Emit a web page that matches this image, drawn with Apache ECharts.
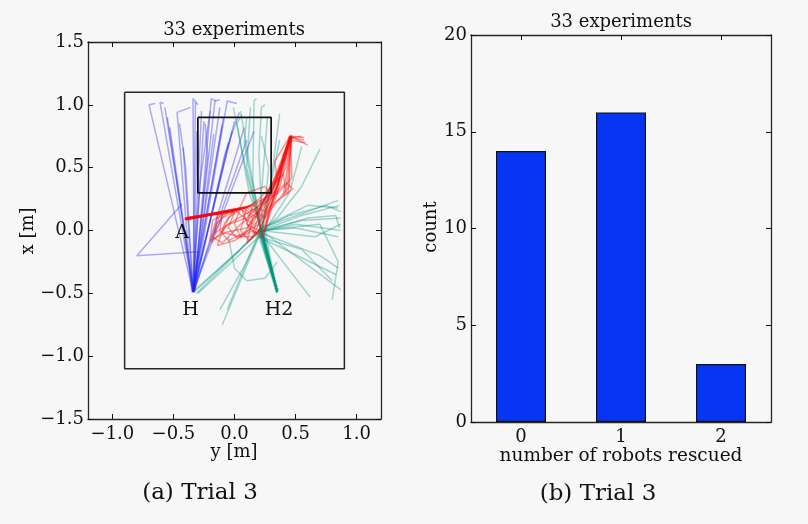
<!DOCTYPE html>
<html><head><meta charset="utf-8">
<script src="https://cdn.jsdelivr.net/npm/echarts@6.0.0/dist/echarts.min.js"></script>
<style>html,body{margin:0;padding:0;background:#f8f7f7;} #c{width:808px;height:524px;}</style>
</head><body><div id="c"></div>
<script>
// ---- data (horizontal = y [m], vertical = x [m]) ----
const blueTracks = [
 [[-0.34,-0.49],[-0.70,1.00],[-0.65,1.01]],
 [[-0.34,-0.48],[-0.61,1.02],[-0.58,1.01]],
 [[-0.33,-0.49],[-0.57,0.98]],
 [[-0.34,-0.47],[-0.53,0.82]],
 [[-0.35,-0.49],[-0.47,0.94],[-0.36,0.98]],
 [[-0.34,-0.49],[-0.42,0.66]],
 [[-0.33,-0.48],[-0.34,1.05],[-0.30,1.00]],
 [[-0.34,-0.49],[-0.32,1.02]],
 [[-0.33,-0.47],[-0.31,0.79]],
 [[-0.34,-0.49],[-0.27,0.95]],
 [[-0.34,-0.48],[-0.25,0.87]],
 [[-0.33,-0.49],[-0.19,1.05],[-0.15,1.03]],
 [[-0.34,-0.49],[-0.16,1.03],[-0.12,1.04]],
 [[-0.33,-0.48],[-0.17,0.77]],
 [[-0.34,-0.49],[-0.12,0.98]],
 [[-0.34,-0.47],[-0.09,0.90]],
 [[-0.33,-0.49],[-0.06,1.03],[0.02,1.01]],
 [[-0.34,-0.48],[0.00,0.87]],
 [[-0.34,-0.49],[-0.02,0.79]],
 [[-0.33,-0.49],[0.08,0.82]],
 [[-0.34,-0.48],[0.10,0.72]],
 [[-0.34,-0.49],[0.16,0.79]],
 [[-0.34,-0.49],[-0.30,-0.17],[-0.80,-0.20],[-0.43,0.21]],
 [[-0.33,-0.48],[-0.22,0.60],[-0.24,0.85]],
 [[-0.34,-0.49],[-0.05,0.70]],
 [[-0.34,-0.49],[-0.40,0.50],[-0.45,0.85]],
 [[-0.34,-0.48],[-0.28,0.40],[-0.20,0.95]],
 [[-0.33,-0.49],[-0.08,0.60],[0.04,0.94]],
 [[-0.34,-0.49],[-0.52,0.70],[-0.55,0.90]],
 [[-0.34,-0.48],[-0.14,0.62],[-0.10,0.84]]
];
const tealTracks = [
 [[0.35,-0.49],[0.22,0.00],[0.15,0.40],[0.16,1.03],[0.18,1.05]],
 [[0.35,-0.49],[0.21,0.02],[0.10,0.50],[0.13,0.98]],
 [[0.36,-0.48],[0.22,-0.02],[0.05,0.95]],
 [[0.35,-0.49],[0.20,0.05],[0.27,0.90]],
 [[0.35,-0.49],[0.22,0.00],[0.37,0.72]],
 [[0.35,-0.49],[0.23,0.02],[0.30,0.40],[0.37,0.93]],
 [[0.35,-0.49],[0.22,0.00],[0.55,0.08],[0.87,0.10]],
 [[0.35,-0.48],[0.21,-0.01],[0.50,0.05],[0.87,0.00]],
 [[0.35,-0.49],[0.22,0.02],[0.60,0.15],[0.85,0.24]],
 [[0.35,-0.49],[0.20,-0.02],[0.60,0.10],[0.83,0.12],[0.86,0.02]],
 [[0.35,-0.49],[0.22,0.00],[0.87,-0.47]],
 [[0.35,-0.49],[0.20,0.00],[0.62,-0.53]],
 [[0.35,-0.49],[0.20,-0.05],[0.83,-0.35]],
 [[0.22,0.00],[-0.10,-0.75]],
 [[0.21,0.01],[-0.06,-0.63]],
 [[0.35,-0.49],[0.22,0.00],[0.35,0.10],[0.55,0.35],[0.70,0.65]],
 [[0.35,-0.49],[0.25,0.00],[0.45,0.30],[0.52,0.55],[0.55,0.67]],
 [[-0.05,-0.05],[0.00,-0.30],[0.10,-0.40],[0.25,-0.38],[0.35,-0.25]],
 [[0.35,-0.49],[0.21,0.00],[0.66,-0.05],[0.87,0.05]],
 [[0.22,0.00],[0.70,0.05],[0.85,-0.25],[0.80,-0.55]],
 [[-0.33,-0.49],[0.10,-0.10],[0.22,0.00]],
 [[-0.30,-0.50],[0.20,-0.05],[0.55,-0.15],[0.80,-0.40]],
 [[-0.32,-0.47],[0.05,-0.15],[0.22,0.02],[0.60,0.20],[0.85,0.18]],
 [[0.35,-0.48],[0.22,0.01],[0.12,0.30],[0.02,0.85],[0.06,0.92]],
 [[0.35,-0.49],[0.23,-0.01],[0.28,0.50],[0.22,0.75]],
 [[0.34,-0.49],[0.20,0.00],[0.45,0.12],[0.75,0.20],[0.87,0.15]],
 [[0.35,-0.49],[0.22,0.00],[0.10,0.45],[-0.01,0.98]],
 [[0.35,-0.49],[0.23,0.00],[0.20,0.60],[0.22,0.98],[0.25,1.00]],
 [[0.35,-0.48],[0.21,0.02],[0.08,0.70],[0.10,0.90]],
 [[-0.12,-0.63],[0.10,-0.25],[0.22,0.00],[0.55,0.12],[0.86,0.20]],
 [[-0.31,-0.50],[0.00,-0.20],[0.20,0.00],[0.50,0.02],[0.85,-0.05]],
 [[0.35,-0.49],[0.22,-0.02],[0.70,-0.20],[0.85,-0.30]]
];
const redTracks = [
 [[-0.40,0.09],[0.05,0.17],[0.20,0.22],[0.30,0.30],[0.40,0.55],[0.46,0.75]],
 [[-0.40,0.10],[0.00,0.16],[0.15,0.20],[0.10,0.05],[0.20,0.00],[0.30,0.20],[0.38,0.45],[0.46,0.74]],
 [[-0.41,0.09],[-0.05,0.15],[-0.15,0.05],[-0.19,-0.10],[-0.05,0.05],[0.10,0.10],[0.25,0.25],[0.35,0.40],[0.45,0.73]],
 [[-0.40,0.08],[0.05,0.18],[0.00,0.05],[0.05,-0.05],[0.15,-0.05],[0.22,0.10],[0.33,0.30],[0.42,0.50],[0.47,0.76]],
 [[-0.40,0.09],[0.10,0.19],[0.05,0.00],[0.12,-0.08],[0.25,0.05],[0.32,0.25],[0.47,0.74],[0.55,0.75]],
 [[-0.39,0.09],[0.02,0.16],[-0.10,0.10],[-0.18,-0.05],[-0.10,-0.10],[0.05,0.05],[0.20,0.15],[0.30,0.35],[0.46,0.75]],
 [[-0.40,0.10],[0.15,0.20],[0.25,0.15],[0.35,0.35],[0.45,0.72],[0.58,0.70]],
 [[-0.40,0.09],[0.00,0.17],[0.08,0.10],[0.15,0.05],[0.22,0.20],[0.40,0.55],[0.46,0.75]],
 [[-0.40,0.09],[-0.10,0.14],[-0.12,0.00],[-0.05,-0.08],[0.08,-0.02],[0.18,0.12],[0.28,0.32],[0.36,0.45],[0.46,0.74]],
 [[-0.41,0.10],[0.05,0.17],[0.15,0.10],[0.10,-0.10],[0.18,-0.03],[0.30,0.20],[0.45,0.75],[0.57,0.74]],
 [[-0.40,0.09],[0.08,0.18],[0.30,0.28],[0.35,0.40],[0.33,0.55],[0.46,0.76]],
 [[-0.40,0.09],[0.00,0.15],[-0.05,0.02],[0.02,-0.06],[0.20,0.05],[0.35,0.30],[0.40,0.60],[0.46,0.74]],
 [[-0.39,0.10],[0.12,0.19],[0.25,0.10],[0.28,0.25],[0.37,0.50],[0.46,0.75],[0.60,0.68]],
 [[-0.40,0.09],[-0.02,0.16],[-0.18,0.08],[-0.20,-0.08],[-0.08,-0.02],[0.05,-0.05],[0.20,0.08],[0.32,0.36],[0.45,0.74]],
 [[-0.40,0.09],[0.10,0.18],[0.20,0.25],[0.40,0.45],[0.42,0.30],[0.47,0.74]],
 [[-0.40,0.09],[0.04,0.17],[0.10,0.30],[0.25,0.35],[0.30,0.28],[0.46,0.75]],
 [[-0.40,0.09],[0.06,0.17],[0.12,0.02],[0.22,-0.06],[0.28,0.10],[0.38,0.38],[0.46,0.75]],
 [[-0.40,0.09],[0.02,0.16],[-0.14,0.12],[-0.16,-0.02],[0.00,0.08],[0.18,0.18],[0.34,0.32],[0.44,0.68],[0.46,0.75]],
 [[-0.40,0.09],[0.07,0.18],[0.18,0.10],[0.25,0.22],[0.42,0.38],[0.48,0.33],[0.40,0.28],[0.44,0.55],[0.46,0.75]],
 [[-0.41,0.09],[0.00,0.16],[-0.08,0.06],[-0.14,-0.12],[0.00,-0.08],[0.15,0.00],[0.24,-0.05],[0.28,0.15],[0.45,0.35],[0.46,0.74],[0.57,0.72]],
 [[-0.40,0.10],[0.05,0.17],[-0.05,0.10],[-0.10,-0.02],[0.10,0.02],[0.22,0.20],[0.36,0.30],[0.47,0.42],[0.46,0.75]],
 [[-0.40,0.09],[0.10,0.18],[0.20,0.12],[0.15,-0.02],[0.25,0.00],[0.30,0.20],[0.44,0.30],[0.45,0.55],[0.47,0.75]]
];
const outerBox = [[-0.9,1.1],[0.9,1.1],[0.9,-1.1],[-0.9,-1.1],[-0.9,1.1]];
const innerBox = [[-0.3,0.9],[0.3,0.9],[0.3,0.3],[-0.3,0.3],[-0.3,0.9]];
const markerNames = ['A','H','H2'];
const markerPos = [[-0.43,-0.02],[-0.36,-0.63],[0.365,-0.63]];
const leftXTicks = [-1.0,-0.5,0.0,0.5,1.0];
const barCategories = ['0','1','2'];
const barCounts = [14,16,3];
const plotTitle = '33 experiments';

// ---- chart ----
const FONT = 'DejaVu Serif';
const INK = '#111111';
const fmt = v => (v < 0 ? '\u2212' : '') + Math.abs(v).toFixed(1);
const tick = {show:true, inside:true, length:5, lineStyle:{color:INK, width:1}};
const line = {show:true, onZero:false, lineStyle:{color:'#2a2522', width:1.3}};
const lbl = {fontFamily:FONT, fontSize:18, color:INK};

function trackSeries(tracks, color, width) {
  return tracks.map(t => ({
    type:'line', xAxisIndex:0, yAxisIndex:0, data:t, showSymbol:false, silent:true,
    lineStyle:{color:color, width:width}, z:2
  }));
}

const series = []
 .concat(trackSeries(blueTracks, 'rgba(40,40,240,0.38)', 1.5))
 .concat(trackSeries(tealTracks, 'rgba(0,150,130,0.36)', 1.5))
 .concat(trackSeries(redTracks, 'rgba(245,10,10,0.40)', 1.5));
series.push({type:'line', xAxisIndex:0, yAxisIndex:0, data:outerBox, showSymbol:false, silent:true, lineStyle:{color:'#2a2522', width:1.5}, z:3});
series.push({type:'line', xAxisIndex:0, yAxisIndex:0, data:innerBox, showSymbol:false, silent:true, lineStyle:{color:'#111', width:1.7}, z:3});
series.push({type:'scatter', xAxisIndex:0, yAxisIndex:0, symbol:'circle', symbolSize:0.1, silent:true,
  itemStyle:{color:'#111', opacity:1}, z:10,
  data: markerNames.map((n,i)=>({name:n, value:markerPos[i]})),
  label:{show:true, position:'inside', formatter:'{b}', fontFamily:FONT, fontSize:19, color:'#111',
         textBorderWidth:0, opacity:1}});
series.push({type:'bar', xAxisIndex:2, yAxisIndex:2, data:barCounts, barWidth:'50%',
  itemStyle:{color:'#0636f4', borderColor:'#111', borderWidth:1.2}});

const chart = echarts.init(document.getElementById('c'), null, {renderer:'canvas'});
chart.setOption({
  backgroundColor:'#f8f7f7',
  animation:false,
  grid:[
    {left:88, top:42, width:293, height:377},
    {left:471, top:35, width:300, height:387}
  ],
  xAxis:[
    {gridIndex:0, type:'value', min:-1.2, max:1.2, position:'bottom', axisLine:line,
     axisTick:Object.assign({customValues:leftXTicks}, tick),
     axisLabel:Object.assign({customValues:leftXTicks, formatter:fmt, margin:6}, lbl), splitLine:{show:false}},
    {gridIndex:0, type:'value', min:-1.2, max:1.2, position:'top', axisLine:line,
     axisTick:Object.assign({customValues:leftXTicks}, tick), axisLabel:{show:false}, splitLine:{show:false}},
    {gridIndex:1, type:'category', data:barCategories, position:'bottom', axisLine:line,
     axisTick:Object.assign({alignWithLabel:true}, tick), axisLabel:Object.assign({margin:6}, lbl), splitLine:{show:false}},
    {gridIndex:1, type:'category', data:barCategories, position:'top', axisLine:line,
     axisTick:Object.assign({alignWithLabel:true}, tick), axisLabel:{show:false}, splitLine:{show:false}}
  ],
  yAxis:[
    {gridIndex:0, type:'value', min:-1.5, max:1.5, interval:0.5, position:'left', axisLine:line, axisTick:tick,
     axisLabel:Object.assign({formatter:fmt, margin:4}, lbl), splitLine:{show:false}},
    {gridIndex:0, type:'value', min:-1.5, max:1.5, interval:0.5, position:'right', axisLine:line, axisTick:tick,
     axisLabel:{show:false}, splitLine:{show:false}},
    {gridIndex:1, type:'value', min:0, max:20, interval:5, position:'left', axisLine:line, axisTick:tick,
     axisLabel:Object.assign({margin:4}, lbl), splitLine:{show:false}},
    {gridIndex:1, type:'value', min:0, max:20, interval:5, position:'right', axisLine:line, axisTick:tick,
     axisLabel:{show:false}, splitLine:{show:false}}
  ],
  graphic:[
    {type:'text', x:234, y:30, style:{text:plotTitle, font:'18px "DejaVu Serif"', fill:INK, align:'center', verticalAlign:'middle'}},
    {type:'text', x:621, y:22, style:{text:plotTitle, font:'18px "DejaVu Serif"', fill:INK, align:'center', verticalAlign:'middle'}},
    {type:'text', x:234, y:452, style:{text:'y [m]', font:'18px "DejaVu Serif"', fill:INK, align:'center', verticalAlign:'middle'}},
    {type:'text', x:28, y:231, rotation:Math.PI/2, style:{text:'x [m]', font:'18px "DejaVu Serif"', fill:INK, align:'center', verticalAlign:'middle'}},
    {type:'text', x:431, y:227, rotation:Math.PI/2, style:{text:'count', font:'18px "DejaVu Serif"', fill:INK, align:'center', verticalAlign:'middle'}},
    {type:'text', x:621, y:456, style:{text:'number of robots rescued', font:'18.5px "DejaVu Serif"', fill:INK, align:'center', verticalAlign:'middle'}},
    {type:'text', x:200, y:493, style:{text:'(a) Trial 3', font:'23px "DejaVu Serif"', fill:INK, align:'center', verticalAlign:'middle'}},
    {type:'text', x:598, y:494, style:{text:'(b) Trial 3', font:'23px "DejaVu Serif"', fill:INK, align:'center', verticalAlign:'middle'}}
  ],
  series: series
});
</script>
</body></html>
